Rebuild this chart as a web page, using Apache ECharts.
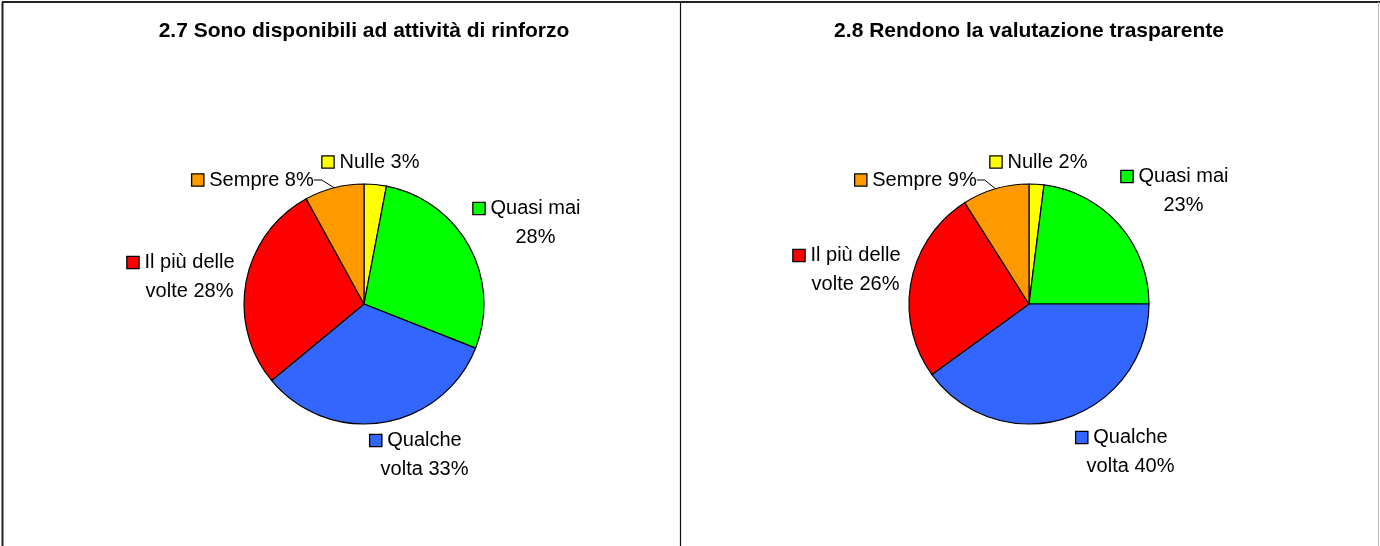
<!DOCTYPE html>
<html>
<head>
<meta charset="utf-8">
<script src="https://cdn.jsdelivr.net/npm/echarts@6/dist/echarts.min.js"></script>
<style>
  html, body { margin: 0; padding: 0; background: #fff; }
  #chart { width: 1380px; height: 546px; }
</style>
</head>
<body>
<div id="chart"></div>
<script>
// data
var categories = ['Nulle', 'Quasi mai', 'Qualche volta', 'Il più delle volte', 'Sempre'];
// how each label is broken into lines; the percentage goes at the end of the last line
var labelLines = [['Nulle'], ['Quasi mai', ''], ['Qualche', 'volta'], ['Il più delle', 'volte'], ['Sempre']];
var values27 = [3, 28, 33, 28, 8];
var values28 = [2, 23, 40, 26, 9];
var titles = ['2.7 Sono disponibili ad attività di rinforzo', '2.8 Rendono la valutazione trasparente'];

var colors = ['#FFFF00', '#00FF00', '#3366FF', '#FF0000', '#FF9900'];
var font = '"Liberation Sans", Arial, sans-serif';

// label block centre, offset from the pie centre
var labelOffsets = [
  [[7, -142], [163, -81], [52, 151], [-183, -27], [-111, -124]],
  [[10, -142], [146, -113], [93, 148], [-182, -34], [-113, -124]]
];
var centers = [[364, 304], [1029, 304]];
var radius = 120;

function makeLabel(i, pct) {
  var lines = labelLines[i].slice();
  var last = lines.length - 1;
  lines[last] = (lines[last] ? lines[last] + ' ' : '') + pct + '%';
  var out = '{k' + i + '|}{g|}{t|' + lines[0] + '}';
  for (var j = 1; j < lines.length; j++) {
    out += '\n{sp|}{t|' + lines[j] + '}';
  }
  return out;
}

function richStyles() {
  var r = {
    t: { fontSize: 20, fontFamily: font, color: '#000', lineHeight: 29 },
    g: { width: 6, height: 10 },
    sp: { width: 17, height: 10 }
  };
  colors.forEach(function (c, i) {
    r['k' + i] = { width: 11, height: 11, backgroundColor: c, borderColor: '#000', borderWidth: 1.3 };
  });
  return r;
}

function pieSeries(k, values) {
  return {
    type: 'pie',
    center: centers[k],
    radius: radius,
    startAngle: 90,
    clockwise: true,
    animation: false,
    avoidLabelOverlap: false,
    itemStyle: { borderColor: '#000', borderWidth: 1.2 },
    emphasis: { disabled: true },
    label: {
      show: true,
      position: 'outside',
      align: 'center',
      formatter: function (p) { return makeLabel(p.dataIndex, p.value); },
      rich: richStyles()
    },
    labelLine: { show: false },
    labelLayout: function (p) {
      var o = labelOffsets[k][p.dataIndex];
      return {
        x: centers[k][0] + o[0],
        y: centers[k][1] + o[1],
        align: 'center',
        verticalAlign: 'middle'
      };
    },
    data: values.map(function (v, i) {
      var d = { name: categories[i], value: v, itemStyle: { color: colors[i] } };
      if (i === 4) {
        d.labelLine = { show: true, length: 6, length2: 8, lineStyle: { color: '#000', width: 1 } };
      }
      return d;
    })
  };
}

var chart = echarts.init(document.getElementById('chart'), null, { renderer: 'canvas' });

var option = {
  backgroundColor: '#fff',
  title: titles.map(function (t, k) {
    return {
      text: t,
      left: centers[k][0],
      top: 21,
      padding: 0,
      textAlign: 'center',
      textStyle: { fontSize: 21, fontWeight: 'bold', fontFamily: font, color: '#000' }
    };
  }),
  graphic: [
    { type: 'line', shape: { x1: 2, y1: 2, x2: 1380, y2: 2 }, style: { stroke: '#222', lineWidth: 2 } },
    { type: 'line', shape: { x1: 2.5, y1: 2, x2: 2.5, y2: 546 }, style: { stroke: '#222', lineWidth: 2 } },
    { type: 'line', shape: { x1: 680.5, y1: 2, x2: 680.5, y2: 546 }, style: { stroke: '#111', lineWidth: 1.2 } },
    { type: 'line', shape: { x1: 1378.5, y1: 2, x2: 1378.5, y2: 546 }, style: { stroke: '#bbb', lineWidth: 1 } }
  ],
  series: [pieSeries(0, values27), pieSeries(1, values28)]
};

chart.setOption(option);
</script>
</body>
</html>
